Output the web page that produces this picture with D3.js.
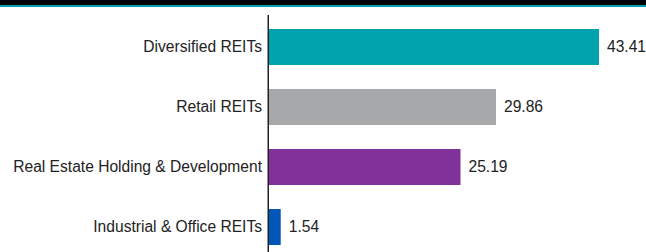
<!DOCTYPE html>
<html>
<head>
<meta charset="utf-8">
<script src="https://cdn.jsdelivr.net/npm/d3@7"></script>
<style>
  body { margin: 0; background: #fff; }
  svg { display: block; }
</style>
</head>
<body>
<div id="chart"></div>
<script>
let categories = ["Diversified REITs", "Retail REITs", "Real Estate Holding & Development", "Industrial & Office REITs"];
let values = [43.41, 29.86, 25.19, 1.54];
let colors = ["#00A3AD", "#A7A8AA", "#80329A", "#0057B8"];

let W = 646, H = 252;
let margin = { top: 15, left: 269 };
let plotW = 330;

let svg = d3.select("#chart")
    .append("svg")
    .attr("width", W)
    .attr("height", H);

// header band
svg.append("rect").attr("x", 0).attr("y", 0).attr("width", W).attr("height", 5).attr("fill", "#000");
svg.append("rect").attr("x", 0).attr("y", 5).attr("width", W).attr("height", 2).attr("fill", "#00A3AD");

let data = categories.map(function (c, i) { return { name: c, value: values[i], color: colors[i] } });

let x = d3.scaleLinear()
    .domain([0, d3.max(values)])
    .range([margin.left, margin.left + plotW]);

let y = d3.scaleBand()
    .domain(categories)
    .range([margin.top - 4, H + 11])
    .paddingInner(0.4)
    .paddingOuter(0.3);

svg.selectAll("rect.bar")
    .data(data)
    .enter()
    .append("rect")
    .attr("class", "bar")
    .attr("x", x(0))
    .attr("y", function (d) { return y(d.name); })
    .attr("width", function (d) { return x(d.value) - x(0); })
    .attr("height", y.bandwidth())
    .attr("fill", function (d) { return d.color; });

// axis line
svg.append("line")
    .attr("x1", x(0) - 0.75).attr("x2", x(0) - 0.75)
    .attr("y1", margin.top).attr("y2", H)
    .attr("stroke", "#222")
    .attr("stroke-width", 1.5);

svg.selectAll("text.cat")
    .data(data)
    .enter()
    .append("text")
    .attr("class", "cat")
    .attr("x", x(0) - 7)
    .attr("y", function (d) { return y(d.name) + y.bandwidth() / 2; })
    .attr("dy", "0.35em")
    .attr("text-anchor", "end")
    .attr("font-family", "Liberation Sans, Arial, sans-serif")
    .attr("font-size", 15.6)
    .attr("fill", "#222")
    .text(function (d) { return d.name; });

svg.selectAll("text.val")
    .data(data)
    .enter()
    .append("text")
    .attr("class", "val")
    .attr("x", function (d) { return x(d.value) + 8; })
    .attr("y", function (d) { return y(d.name) + y.bandwidth() / 2; })
    .attr("dy", "0.35em")
    .attr("font-family", "Liberation Sans, Arial, sans-serif")
    .attr("font-size", 15.6)
    .attr("fill", "#222")
    .text(function (d) { return d3.format(".2f")(d.value); });
</script>
</body>
</html>
